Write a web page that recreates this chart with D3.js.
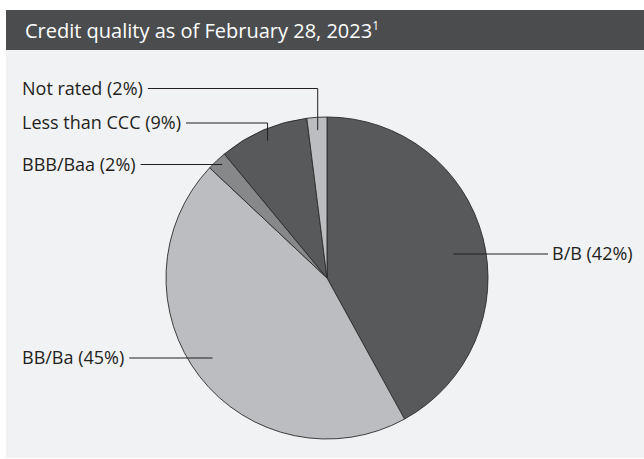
<!DOCTYPE html>
<html>
<head>
<meta charset="utf-8">
<script src="https://cdn.jsdelivr.net/npm/d3@7"></script>
<style>
  body { margin: 0; background: #fff; }
</style>
</head>
<body>
<div id="chart"></div>
<script>
var width = 644, height = 459;

// data
var ratings = ['B/B', 'BB/Ba', 'BBB/Baa', 'Less than CCC', 'Not rated'];
var shares = [42, 45, 2, 9, 2];
var colors = ['#58595b', '#bcbdc0', '#87888a', '#58595b', '#bcbdc0'];

// label layout: line y, side, how far into the slice the leader goes, elbow or straight
var labelY = [254, 358, 164.5, 123, 88.5];
var labelSide = ['right', 'left', 'left', 'left', 'left'];
var leaderDepth = [0.81, 0.9, 0.95, 0.93, 0.92];
var leaderElbow = [false, false, false, true, true];

var cx = 327, cy = 278, radius = 161;

var svg = d3.select('#chart').append('svg')
    .attr('width', width)
    .attr('height', height)
    .style('font-family', '"Open Sans", sans-serif');

// panel + header
svg.append('rect')
    .attr('x', 6).attr('y', 50)
    .attr('width', width - 6).attr('height', 408)
    .attr('fill', '#f1f2f4');

svg.append('rect')
    .attr('x', 6).attr('y', 10)
    .attr('width', width - 6).attr('height', 40)
    .attr('fill', '#4b4c4e');

var title = svg.append('text')
    .attr('x', 25).attr('y', 38)
    .attr('fill', '#fff')
    .style('font-size', '20px')
    .text('Credit quality as of February 28, 2023');
title.append('tspan')
    .attr('dy', -8)
    .style('font-size', '12px')
    .text('1');

var pie = d3.pie().sort(null).value(function(d) { return d; });
var arcs = pie(shares);
var arc = d3.arc().innerRadius(0).outerRadius(radius);

var g = svg.append('g')
    .attr('transform', 'translate(' + cx + ',' + cy + ')');

g.selectAll('.slice')
    .data(arcs)
    .enter().append('path')
        .attr('class', 'slice')
        .attr('d', arc)
        .attr('fill', function(d, i) { return colors[i]; })
        .attr('stroke', '#2b2b2b')
        .attr('stroke-width', 0.9);

// leader lines + labels
var labels = svg.selectAll('.label')
    .data(arcs)
    .enter().append('g')
        .attr('class', 'label');

labels.each(function(d, i) {
    var sel = d3.select(this);
    var mid = (d.startAngle + d.endAngle) / 2;
    var r = radius * leaderDepth[i];
    var px = cx + r * Math.sin(mid);
    var py = cy - r * Math.cos(mid);
    var ly = labelY[i];
    var txt = sel.append('text')
        .attr('y', ly)
        .attr('dy', '0.35em')
        .attr('fill', '#231f20')
        .style('font-size', '18px')
        .text(ratings[i] + ' (' + shares[i] + '%)');

    var pts;
    if (labelSide[i] === 'left') {
        txt.attr('x', 22);
        var tw = txt.node().getComputedTextLength();
        var x0 = 22 + tw + 5;
        pts = [[x0, ly], [px, ly]];
        if (leaderElbow[i]) pts.push([px, py]);
    } else {
        var x1 = 548;
        txt.attr('x', x1 + 4);
        pts = [[px, ly], [x1, ly]];
        if (leaderElbow[i]) pts.unshift([px, py]);
    }
    sel.append('path')
        .attr('d', d3.line()(pts))
        .attr('fill', 'none')
        .attr('stroke', '#231f20')
        .attr('stroke-width', 1);
});
</script>
</body>
</html>
